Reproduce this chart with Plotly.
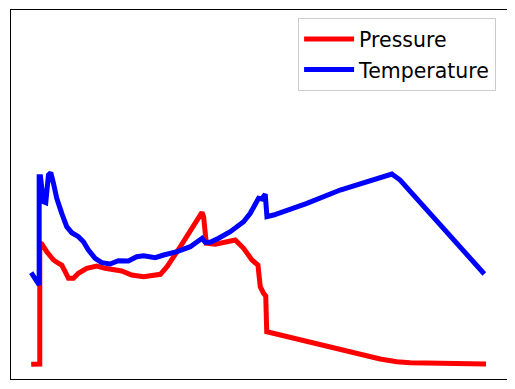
import plotly.graph_objects as go

# Time (arbitrary units) and readings
pressure_t = [30.7, 39.3, 39.3, 41.3, 46.3, 53, 58, 61.3, 64.7, 68, 73, 78, 86.3, 96.3,
              104.7, 114.7, 121.3, 131.3, 143.3, 160, 166.7, 180, 191.7, 201.7, 203.3, 206,
              215, 226.7, 235, 243.3, 251.7, 257.7, 260, 263.3, 265.5, 266.5, 340, 380,
              396.7, 410, 486]
pressure_v = [14.7, 15, 136, 135, 127.3, 119, 115.7, 114, 107.3, 100.7, 100.7, 105.7, 110.7,
              113, 110.7, 109, 108, 104, 102.3, 104.7, 112.3, 132.3, 150.7, 166.7, 162.3,
              135.7, 134.7, 137.3, 139, 130.7, 119, 114, 92.3, 85.7, 83, 47.3, 29, 20,
              17.3, 16.3, 15]

temperature_t = [30.7, 38.7, 38.7, 40, 43, 45.3, 48, 50.3, 53, 56.3, 61.3, 66.3, 71.3, 78, 83,
                 88, 94.7, 101.3, 109.7, 118, 128, 136.3, 143.3, 155, 163.3, 176.7, 190,
                 201.7, 205, 210, 218.3, 230, 243.3, 250, 258.3, 261.7, 265, 266.7, 273.3,
                 306.7, 340, 380, 391.7, 400, 484.3]
temperature_v = [106.3, 94, 202.3, 202.3, 177.3, 176.3, 204, 206.3, 195.7, 180.7, 165.7,
                 152.3, 146.3, 142.3, 137.3, 129, 120.7, 116.3, 115, 118.3, 118, 122.3, 123.3,
                 121.3, 124, 127.3, 132.3, 140.7, 136.7, 136.7, 140.7, 147.3, 157.3, 165.7,
                 180.7, 180, 184.7, 162.3, 164, 175.7, 189, 201.7, 205, 199, 105]

fig = go.Figure()
fig.add_trace(go.Scatter(x=pressure_t, y=pressure_v, mode="lines", name="Pressure",
                         legendgroup="p", line=dict(color="red", width=5)))
fig.add_trace(go.Scatter(x=temperature_t, y=temperature_v, mode="lines", name="Temperature",
                         legendgroup="t", line=dict(color="blue", width=5)))

axis_common = dict(showgrid=False, zeroline=False, showticklabels=False, ticks="",
                   showline=True, linecolor="black", linewidth=1, mirror=True)
fig.update_xaxes(range=[10.5, 507], **axis_common)
fig.update_yaxes(range=[0, 369], **axis_common)

fig.update_layout(
    width=502, height=374,
    margin=dict(l=2.5, r=3, t=2, b=3),
    plot_bgcolor="white", paper_bgcolor="white",
    font=dict(family="DejaVu Sans", size=20.5, color="black"),
    legend=dict(x=0.978, y=0.978, xanchor="right", yanchor="top",
                bordercolor="#cccccc", borderwidth=1, bgcolor="rgba(255,255,255,0.8)",
                font=dict(size=20.5), tracegroupgap=1, itemwidth=50),
    showlegend=True,
)

fig.write_html("out.html")
